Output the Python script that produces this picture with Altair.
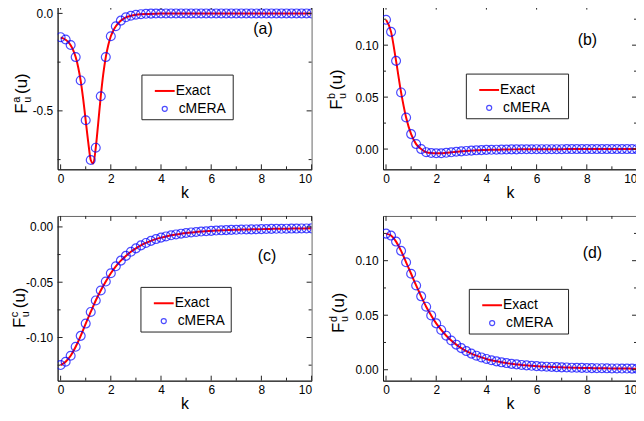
import altair as alt
import pandas as pd

# ---------------- data ----------------
K_PTS = [0.0, 0.2, 0.4, 0.6, 0.8, 1.0, 1.2, 1.4, 1.6, 1.8,
         2.0, 2.2, 2.4, 2.6, 2.8, 3.0, 3.2, 3.4, 3.6, 3.8,
         4.0, 4.2, 4.4, 4.6, 4.8, 5.0, 5.2, 5.4, 5.6, 5.8,
         6.0, 6.2, 6.4, 6.6, 6.8, 7.0, 7.2, 7.4, 7.6, 7.8,
         8.0, 8.2, 8.4, 8.6, 8.8, 9.0, 9.2, 9.4, 9.6, 9.8, 10.0]

# panel (a)
A_CMERA = [-0.122, -0.134, -0.162, -0.224, -0.344, -0.548, -0.752, -0.689, -0.425, -0.224,
           -0.117, -0.066, -0.037, -0.020, -0.012, -0.007, -0.004, -0.002, -0.001, -0.0005,
           -0.0003, -0.0002, -0.0001, 0.0, 0.0, 0.0, 0.0, 0.0, 0.0, 0.0,
           0.0, 0.0, 0.0, 0.0, 0.0, 0.0, 0.0, 0.0, 0.0, 0.0,
           0.0, 0.0, 0.0, 0.0, 0.0, 0.0, 0.0, 0.0, 0.0, 0.0, 0.0]
A_K_LINE = [0.0, 0.1, 0.2, 0.3, 0.4, 0.5, 0.6, 0.7, 0.8, 0.9,
            1.0, 1.1, 1.2, 1.3, 1.4, 1.5, 1.6, 1.7, 1.8, 1.9,
            2.0, 2.1, 2.2, 2.3, 2.4, 2.5, 2.6, 2.7, 2.8, 2.9,
            3.0, 3.5, 4.0, 4.5, 5.0, 6.0, 7.0, 8.0, 9.0, 10.0]
A_EXACT = [-0.125, -0.128, -0.135, -0.146, -0.163, -0.188, -0.224, -0.276, -0.346, -0.440,
           -0.550, -0.660, -0.752, -0.770, -0.690, -0.560, -0.425, -0.310, -0.224, -0.162,
           -0.117, -0.088, -0.066, -0.050, -0.037, -0.028, -0.020, -0.016, -0.012, -0.009,
           -0.007, -0.003, -0.001, -0.0005, -0.0002, 0.0, 0.0, 0.0, 0.0, 0.0]

# panel (b)
B_CMERA = [0.1244, 0.1128, 0.0849, 0.0545, 0.0304, 0.0144, 0.0048, 0.0000, -0.0030, -0.0038,
           -0.0040, -0.0040, -0.0036, -0.0031, -0.0026, -0.0022, -0.0018, -0.0015, -0.0012, -0.0010,
           -0.0008, -0.0007, -0.0006, -0.0005, -0.0004, -0.0003, -0.0003, -0.0002, -0.0002, -0.0002,
           -0.0001, -0.0001, -0.0001, -0.0001, -0.0001, -0.0001, 0.0, 0.0, 0.0, 0.0,
           0.0, 0.0, 0.0, 0.0, 0.0, 0.0, 0.0, 0.0, 0.0, 0.0, 0.0]

# panel (c)
C_CMERA = [-0.1249, -0.1219, -0.1165, -0.1084, -0.0985, -0.0874, -0.0769, -0.0665, -0.0575, -0.0494,
           -0.0419, -0.0356, -0.0305, -0.0262, -0.0225, -0.0194, -0.0167, -0.0145, -0.0126, -0.0110,
           -0.0097, -0.0086, -0.0076, -0.0068, -0.0061, -0.0055, -0.0050, -0.0046, -0.0042, -0.0039,
           -0.0036, -0.0033, -0.0031, -0.0029, -0.0027, -0.0026, -0.0024, -0.0023, -0.0022, -0.0021,
           -0.0020, -0.0019, -0.0018, -0.0017, -0.0017, -0.0016, -0.0015, -0.0015, -0.0014, -0.0014, -0.0013]

# panel (d)
D_CMERA = [0.1248, 0.1230, 0.1175, 0.1090, 0.0985, 0.0880, 0.0773, 0.0673, 0.0578, 0.0498,
           0.0425, 0.0365, 0.0312, 0.0268, 0.0230, 0.0198, 0.0171, 0.0148, 0.0129, 0.0113,
           0.0099, 0.0087, 0.0077, 0.0068, 0.0061, 0.0054, 0.0049, 0.0044, 0.0040, 0.0036,
           0.0033, 0.0030, 0.0028, 0.0026, 0.0024, 0.0022, 0.0021, 0.0019, 0.0018, 0.0017,
           0.0016, 0.0015, 0.0014, 0.0014, 0.0013, 0.0012, 0.0012, 0.0011, 0.0011, 0.0010, 0.0010]

X_MAJOR = [0, 2, 4, 6, 8, 10]
X_MINOR = [1, 3, 5, 7, 9]
LEGEND_LABELS = ["Exact", "cMERA"]

FONT = "Liberation Sans"
W, H = 256, 166
RED = "#ff0000"
BLUE = "#0000ff"


def panel(k_line, v_line, v_pts, ydom, ymajor, yminor, yfmt, letter, sup,
          tx, ty, lx, ly, lw, px, py):
    xs = alt.Scale(domain=[-0.12, 10], nice=False, zero=False)
    ys = alt.Scale(domain=ydom, nice=False, zero=False)
    x_ax = alt.Axis(values=X_MAJOR, format="d", title="k", ticks=False, tickSize=0,
                    labelPadding=4, titlePadding=0, grid=False)
    y_ax = alt.Axis(values=ymajor, title=None, ticks=False, tickSize=0, labelPadding=5,
                    grid=False,
                    labelExpr="replace(format(datum.value, '%s'), '\u2212', '-')" % yfmt)
    X = alt.X("k:Q", scale=xs, axis=x_ax)
    Y = alt.Y("v:Q", scale=ys, axis=y_ax)

    line = alt.Chart(pd.DataFrame({"k": k_line, "v": v_line})).mark_line(
        color=RED, strokeWidth=2, interpolate="monotone", clip=True
    ).encode(x=X, y=Y)
    pts = alt.Chart(pd.DataFrame({"k": K_PTS, "v": v_pts})).mark_point(
        shape="circle", filled=False, color=BLUE, size=80, strokeWidth=1.2, clip=True
    ).encode(x=X, y=Y)

    layers = [line, pts]
    # inward ticks
    xmaj = pd.DataFrame({"k": X_MAJOR})
    xmin = pd.DataFrame({"k": X_MINOR})
    ymaj = pd.DataFrame({"v": ymajor})
    ymin = pd.DataFrame({"v": yminor})
    tk = dict(color="#222222", strokeWidth=1)
    layers += [
        alt.Chart(xmaj).mark_rule(**tk).encode(x=X, y=alt.value(H), y2=alt.value(H - 5)),
        alt.Chart(xmin).mark_rule(**tk).encode(x=X, y=alt.value(H), y2=alt.value(H - 3)),
        alt.Chart(xmaj).mark_rule(**tk).encode(x=X, y=alt.value(0), y2=alt.value(5)),
        alt.Chart(xmin).mark_rule(**tk).encode(x=X, y=alt.value(0), y2=alt.value(3)),
        alt.Chart(ymaj).mark_rule(**tk).encode(y=Y, x=alt.value(0), x2=alt.value(5)),
        alt.Chart(ymin).mark_rule(**tk).encode(y=Y, x=alt.value(0), x2=alt.value(3)),
        alt.Chart(ymaj).mark_rule(**tk).encode(y=Y, x=alt.value(W), x2=alt.value(W - 5)),
        alt.Chart(ymin).mark_rule(**tk).encode(y=Y, x=alt.value(W), x2=alt.value(W - 3)),
    ]

    # y-axis title  F^sup_u(u), rotated
    def ttext(s, x, y, size):
        return alt.Chart(pd.DataFrame({"t": [s]})).mark_text(
            angle=270, align="left", baseline="alphabetic", font=FONT, fontSize=size,
            color="black"
        ).encode(text="t:N", x=alt.value(x), y=alt.value(y))

    layers += [
        ttext("F", tx, ty, 17),
        ttext(sup, tx - 7, ty - 11, 11),
        ttext("u", tx + 4, ty - 11, 11),
        ttext("(u)", tx, ty - 20, 17),
    ]

    # legend
    one = pd.DataFrame({"a": [0]})
    layers += [
        alt.Chart(one).mark_rect(fill="white", stroke="#222222", strokeWidth=1).encode(
            x=alt.value(lx), x2=alt.value(lx + lw), y=alt.value(ly), y2=alt.value(ly + 45)),
        alt.Chart(one).mark_rule(color=RED, strokeWidth=2).encode(
            x=alt.value(lx + 13), x2=alt.value(lx + 33), y=alt.value(ly + 16)),
        alt.Chart(one).mark_point(shape="circle", filled=False, color=BLUE, size=26,
                                  strokeWidth=1.2).encode(
            x=alt.value(lx + 23), y=alt.value(ly + 34)),
        alt.Chart(pd.DataFrame({"t": [LEGEND_LABELS[0]]})).mark_text(
            align="left", baseline="middle", font=FONT, fontSize=14, color="black"
        ).encode(text="t:N", x=alt.value(lx + 34), y=alt.value(ly + 16)),
        alt.Chart(pd.DataFrame({"t": [LEGEND_LABELS[1]]})).mark_text(
            align="left", baseline="middle", font=FONT, fontSize=14, color="black"
        ).encode(text="t:N", x=alt.value(lx + 37), y=alt.value(ly + 34)),
        alt.Chart(pd.DataFrame({"t": [letter]})).mark_text(
            align="center", baseline="middle", font=FONT, fontSize=16, color="black"
        ).encode(text="t:N", x=alt.value(px), y=alt.value(py)),
    ]
    return alt.layer(*layers).properties(width=W, height=H)


pa = panel(A_K_LINE, A_EXACT, A_CMERA, [-0.80, 0.045], [-0.5, 0.0], [-0.75, -0.25], ".1f",
           "(a)", "a", -31, 110, 85, 71, 92, 207, 25)
pb = panel(K_PTS, B_CMERA, B_CMERA, [-0.0195, 0.139], [0.0, 0.05, 0.10], [0.025, 0.075, 0.125], ".2f",
           "(b)", "b", -41, 106, 84, 70, 103, 206, 36)
pc = panel(K_PTS, C_CMERA, C_CMERA, [-0.139, 0.0099], [-0.10, -0.05, 0.0], [-0.125, -0.075, -0.025], ".2f",
           "(c)", "c", -33, 113, 84, 72, 91, 211, 40)
pd_ = panel(K_PTS, D_CMERA, D_CMERA, [-0.01, 0.141], [0.0, 0.05, 0.10], [0.025, 0.075, 0.125], ".2f",
            "(d)", "d", -39, 118, 87, 74, 100, 211, 37)

chart = alt.concat(pa, pb, pc, pd_, columns=2, spacing={"row": 47, "column": 72},
                   bounds="flush").properties(
    padding={"left": 0, "top": -6, "right": -2, "bottom": 0}
).configure_view(
    stroke="#666666", strokeWidth=1
).configure_axis(
    domainColor="#111111", domainWidth=1, labelFont=FONT, labelFontSize=12,
    labelColor="black", titleFont=FONT, titleFontSize=16, titleFontWeight="normal",
    titleColor="black"
)

chart.save("out.html", embed_options={"renderer": "svg", "actions": False})
